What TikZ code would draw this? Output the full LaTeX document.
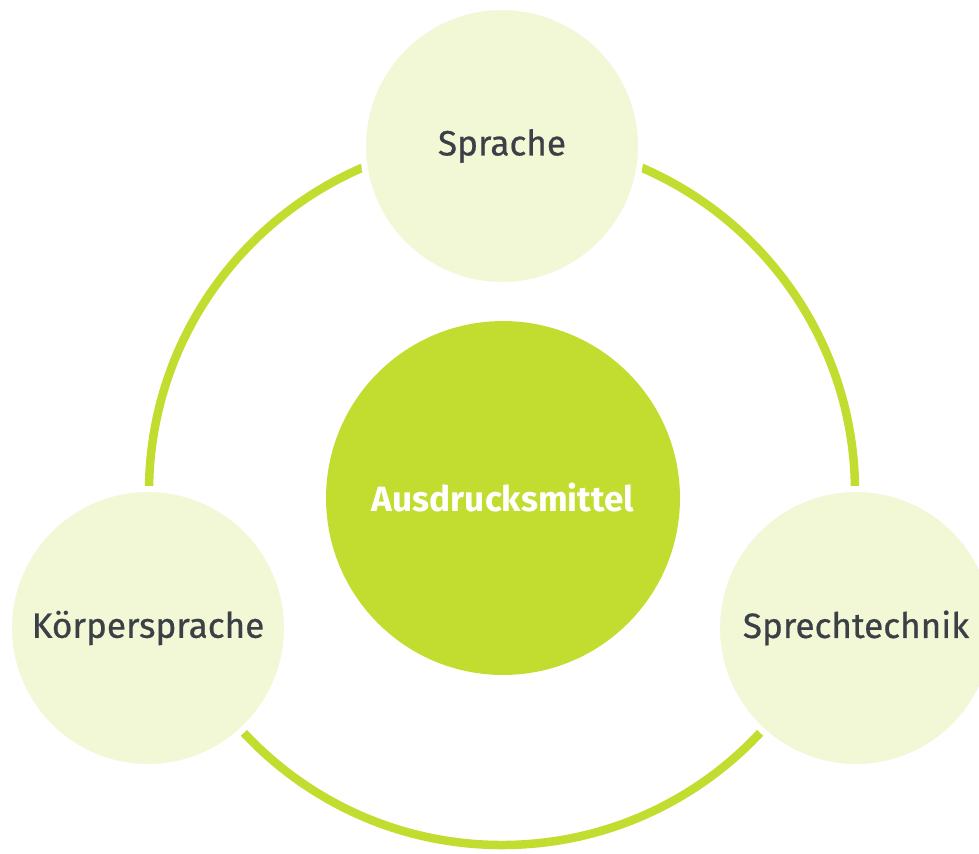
\documentclass[tikz,border=0pt]{standalone}
\usepackage{fontspec}
\setmainfont{Fira Sans}
\newfontfamily\labelfont[FakeBold=0.6]{Fira Sans}
\usetikzlibrary{shapes,backgrounds,calc}

\definecolor{lime}{HTML}{C2DD2F}
\definecolor{palelime}{HTML}{F2F7D6}
\definecolor{darktext}{HTML}{3B4046}

\begin{document}
\begin{tikzpicture}[x=0.02cm, y=-0.02cm]

%% styles
\tikzstyle{bubble}=[circle, draw=white, line width=0.12cm, fill=palelime, text=darktext, minimum size=5.56cm, inner sep=0pt, font=\labelfont\fontsize{20}{24}\selectfont]

\tikzstyle{core}=[circle, fill=lime, text=white, minimum size=7.08cm, inner sep=0pt, font=\fontsize{20}{24}\selectfont\bfseries]

\useasboundingbox (0, 0) rectangle (979, 853);

%% ring
\path [draw, draw=lime, line width=0.17cm] (502, 492) circle (353);

%% blobs
\node(M)[style = core] at (503, 498)
{
Ausdrucksmittel
};

\node(S1)[style = bubble] at (502, 146)
{
Sprache
};

\node(S2)[style = bubble] at (148, 628)
{
Körpersprache
};

\node(S3)[style = bubble] at (856, 628)
{
Sprechtechnik
};

\end{tikzpicture}
\end{document}
